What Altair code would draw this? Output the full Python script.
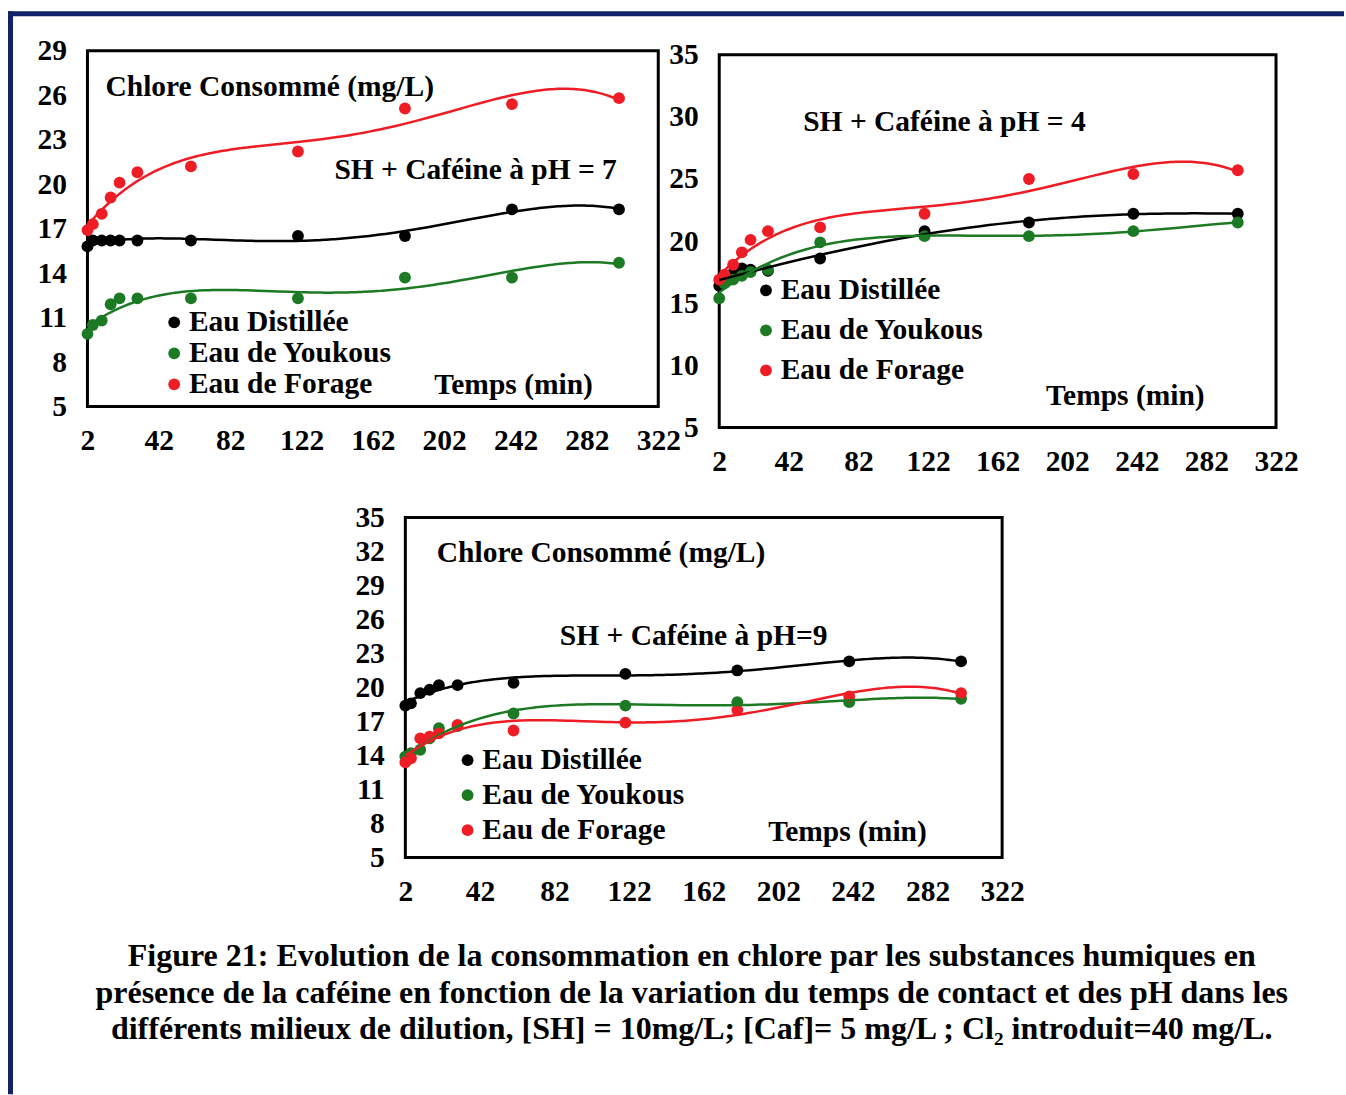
import altair as alt
import pandas as pd

# Contact times (min) shared by every series
TEMPS = [2, 5, 10, 15, 20, 30, 60, 120, 180, 240, 300]
SERIES = ["Eau Distillée", "Eau de Youkous", "Eau de Forage"]
COLORS = ["#000000", "#1c7a24", "#ee1d25"]

# Chlorine consumed (mg/L), SH + caffeine, pH = 7
PH7_DIST = [15.8, 16.2, 16.2, 16.2, 16.2, 16.2, 16.2, 16.5, 16.5, 18.3, 18.3]
PH7_YOUK = [9.9, 10.5, 10.8, 11.9, 12.3, 12.3, 12.3, 12.3, 13.7, 13.7, 14.7]
PH7_FORA = [16.9, 17.3, 18.0, 19.1, 20.1, 20.8, 21.2, 22.2, 25.1, 25.4, 25.8]

# pH = 4
PH4_DIST = [16.4, 17.0, 17.4, 17.8, 17.7, 17.6, 18.6, 20.8, 21.5, 22.2, 22.2]
PH4_YOUK = [15.4, 16.6, 16.9, 17.2, 17.5, 17.7, 19.9, 20.4, 20.4, 20.8, 21.5]
PH4_FORA = [16.9, 17.3, 18.1, 19.1, 20.1, 20.8, 21.1, 22.2, 25.0, 25.4, 25.7]

# pH = 9
PH9_DIST = [18.4, 18.6, 19.5, 19.8, 20.2, 20.2, 20.4, 21.2, 21.5, 22.3, 22.3]
PH9_YOUK = [13.9, 14.2, 14.5, 15.5, 16.4, 16.6, 17.7, 18.4, 18.7, 18.7, 19.0]
PH9_FORA = [13.4, 13.75, 15.5, 15.65, 15.95, 16.7, 16.2, 16.9, 18.0, 19.2, 19.5]

X_TICKS = [2, 42, 82, 122, 162, 202, 242, 282, 322]
Y_TICKS_PH7 = [5, 8, 11, 14, 17, 20, 23, 26, 29]
Y_TICKS_PH4 = [5, 10, 15, 20, 25, 30, 35]
Y_TICKS_PH9 = [5, 8, 11, 14, 17, 20, 23, 26, 29, 32, 35]

Y_LABEL = "Chlore Consommé (mg/L)"
X_LABEL = "Temps (min)"
CAPTION = [
    "Figure 21: Evolution de la consommation en chlore  par les substances humiques en",
    "présence de la caféine en fonction de la variation du temps de contact et des pH dans les",
    "différents milieux de dilution, [SH] = 10mg/L; [Caf]= 5 mg/L ; Cl₂ introduit=40 mg/L.",
]

FONT = "Liberation Serif"
FS = 29.5
NAVY = "#0f2366"


def table(dist, youk, fora):
    rows = []
    for name, vals in zip(SERIES, [dist, youk, fora]):
        for t, v in zip(TEMPS, vals):
            rows.append({"t": t, "v": v, "serie": name})
    return pd.DataFrame(rows)


def note(text, x, y, align="left", size=FS, **kw):
    return alt.Chart(alt.Data(values=[{}])).mark_text(
        font=FONT, fontSize=size, fontWeight="bold", color="black",
        align=align, baseline="middle", **kw
    ).encode(x=alt.value(x), y=alt.value(y), text=alt.value(text))


def band(x, x2, y, y2):
    # solid navy strip of the page frame
    return alt.Chart(alt.Data(values=[{}])).mark_rect(color=NAVY).encode(
        x=alt.value(x), x2=alt.value(x2), y=alt.value(y), y2=alt.value(y2))


def panel(df, y_ticks, width, height, leg_x, leg_y, leg_pad, leg_off, extras):
    x = alt.X("t:Q", scale=alt.Scale(domain=[2, 322], nice=False, zero=False),
              axis=alt.Axis(values=X_TICKS, title=None, labelPadding=20, labelFlush=False))
    y = alt.Y("v:Q", scale=alt.Scale(domain=[y_ticks[0], y_ticks[-1]], nice=False, zero=False),
              axis=alt.Axis(values=y_ticks, title=None, labelPadding=21, labelFlush=False))
    cscale = alt.Scale(domain=SERIES, range=COLORS)
    base = alt.Chart(df)
    pts = base.mark_circle(size=140, opacity=1).encode(
        x=x, y=y,
        color=alt.Color("serie:N", scale=cscale, sort=SERIES, legend=alt.Legend(
            orient="none", legendX=leg_x, legendY=leg_y, title=None,
            labelFont=FONT, labelFontSize=FS, labelFontWeight="bold", labelColor="black",
            labelLimit=600, symbolType="circle", symbolSize=140, symbolStrokeWidth=0,
            symbolOpacity=1, rowPadding=leg_pad, labelOffset=leg_off, padding=0,
        )),
    )
    fit = base.transform_regression(
        "t", "v", groupby=["serie"], method="poly", order=4
    ).mark_line(strokeWidth=2.5).encode(
        x=x, y=y, color=alt.Color("serie:N", scale=cscale, legend=None)
    )
    return alt.layer(pts, fit, *extras).properties(width=width, height=height)


def spacer(w, h):
    return alt.Chart(alt.Data(values=[{}])).mark_point(opacity=0).encode(
        x=alt.value(0), y=alt.value(0)
    ).properties(width=w, height=h, view=alt.ViewBackground(stroke="transparent"))


ph7 = panel(
    table(PH7_DIST, PH7_YOUK, PH7_FORA), Y_TICKS_PH7, 571, 356, 72, 257, 0, 0,
    [note(Y_LABEL, 18, 36.5), note("SH + Caféine à pH = 7", 247, 119),
     note(X_LABEL, 347, 334.5),
     # page frame: top strip and upper part of the left strip
     band(-79.5, 1257, -39.5, -34.5), band(-79.5, -74.5, -39.5, 448)],
)
ph4 = panel(
    table(PH4_DIST, PH4_YOUK, PH4_FORA), Y_TICKS_PH4, 557, 373, 32, 225, 9, 0,
    [note("SH + Caféine à pH = 4", 84, 67), note(X_LABEL, 327, 341)],
)
ph9 = panel(
    table(PH9_DIST, PH9_YOUK, PH9_FORA), Y_TICKS_PH9, 597, 340, 47.5, 228, 4, 0,
    [note(Y_LABEL, 31.5, 36), note("SH + Caféine à pH=9", 154.5, 119),
     note(X_LABEL, 363, 314.5),
     note(CAPTION, 286.5, 439, align="center", size=32, lineHeight=36.5),
     # lower part of the page frame's left strip
     band(-397.5, -392.5, -23, 577)],
)

right_col = alt.vconcat(spacer(557, 4), ph4, spacing=0, bounds="flush")
top_row = alt.hconcat(ph7, right_col, spacing=61, bounds="flush").resolve_scale(
    color="independent").resolve_legend(color="independent")
bottom_row = alt.hconcat(spacer(318, 1), ph9, spacing=0, bounds="flush").resolve_scale(
    color="independent").resolve_legend(color="independent")

# rows overlap slightly so the two parts of the left frame strip join up
chart = alt.vconcat(top_row, bottom_row, spacing=-8).resolve_scale(
    color="independent").resolve_legend(color="independent")

chart = chart.properties(
    padding={"left": 6.5, "top": 9.5, "right": 0, "bottom": 0},
    background="white",
).configure_view(
    stroke="black", strokeWidth=3
).configure_axis(
    labelFont=FONT, labelFontSize=FS, labelFontWeight="bold", labelColor="black",
    ticks=False, domain=False, grid=False,
)

chart.save("out.html", embed_options={"renderer": "svg", "actions": False})
